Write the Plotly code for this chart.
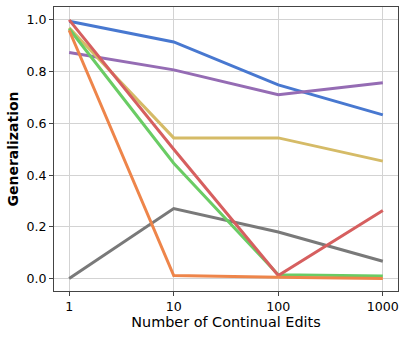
import plotly.graph_objects as go

edits = [1, 10, 100, 1000]
tick_labels = ["1", "10", "100", "1000"]
y_ticks = [0.0, 0.2, 0.4, 0.6, 0.8, 1.0]

blue = [0.995, 0.915, 0.749, 0.633]
purple = [0.874, 0.807, 0.711, 0.757]
yellow = [0.97, 0.544, 0.544, 0.454]
gray = [0.0, 0.271, 0.180, 0.067]
green = [0.966, 0.446, 0.015, 0.010]
red = [1.0, 0.500, 0.012, 0.263]
orange = [0.960, 0.012, 0.005, 0.0]

series = [
    ("blue", blue, "#4878d0"),
    ("purple", purple, "#956cb4"),
    ("yellow", yellow, "#d5bb67"),
    ("gray", gray, "#797979"),
    ("green", green, "#6acc64"),
    ("red", red, "#d65f5f"),
    ("orange", orange, "#ee854a"),
]

fig = go.Figure()
for name, vals, col in series:
    fig.add_trace(go.Scatter(x=edits, y=vals, mode="lines", name=name,
                             line=dict(color=col, width=3)))

font = "DejaVu Sans"
fig.update_layout(
    width=407, height=337,
    margin=dict(l=54, r=9, t=7, b=46),
    paper_bgcolor="white", plot_bgcolor="white",
    showlegend=False,
    font=dict(family=font, size=13, color="black"),
    xaxis=dict(
        type="log", range=[-0.145, 3.145], automargin=False,
        tickvals=edits, ticktext=tick_labels,
        showgrid=True, gridcolor="#d3d3d3", gridwidth=1,
        showline=True, linecolor="#444444", linewidth=1, mirror=True,
        ticks="outside", ticklen=4, tickcolor="#444444",
        tickfont=dict(size=12.6),
        title=dict(text="Number of Continual Edits", font=dict(size=14.4), standoff=2),
        zeroline=False,
    ),
    yaxis=dict(
        range=[-0.048, 1.05], automargin=False,
        tickvals=y_ticks, ticktext=[f"{v:.1f}" for v in y_ticks],
        showgrid=True, gridcolor="#d3d3d3", gridwidth=1,
        showline=True, linecolor="#444444", linewidth=1, mirror=True,
        ticks="outside", ticklen=4, tickcolor="#444444",
        tickfont=dict(size=12.6),
        title=dict(text="<b>Generalization</b>", font=dict(size=14), standoff=4),
        zeroline=False,
    ),
)

fig.write_html("out.html", config={"displayModeBar": False},
               post_script="document.body.style.margin='0';")
